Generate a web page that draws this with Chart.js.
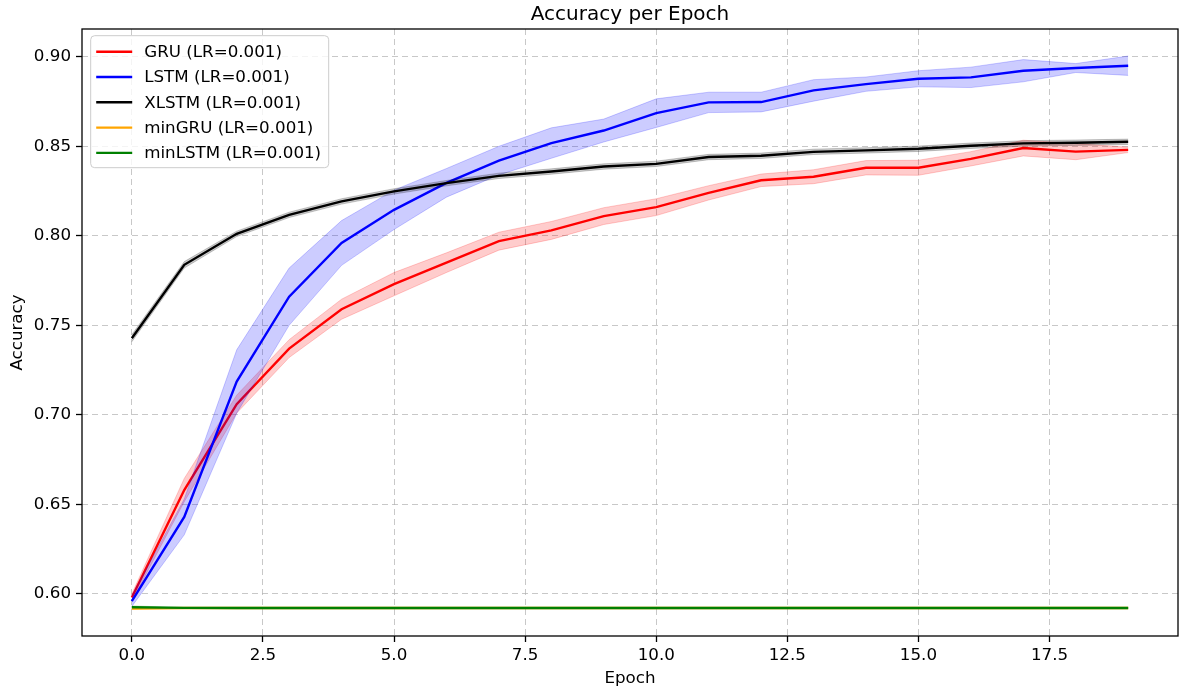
<!DOCTYPE html>
<html><head><meta charset="utf-8">
<script src="https://cdn.jsdelivr.net/npm/chart.js@4.4.1/dist/chart.umd.min.js"></script>
<style>html,body{margin:0;padding:0;background:#fff}#wrap{width:1180px;height:691px}</style>
</head><body><div id="wrap"><canvas id="c" width="1180" height="691"></canvas></div>
<script>
const epochs = [0,1,2,3,4,5,6,7,8,9,10,11,12,13,14,15,16,17,18,19];
const xTicks = [0,2.5,5,7.5,10,12.5,15,17.5];
const yTicks = [0.60,0.65,0.70,0.75,0.80,0.85,0.90];

const gruMean = [0.598,0.658,0.706,0.737,0.759,0.773,0.785,0.797,0.803,0.811,0.816,0.824,0.831,0.833,0.838,0.838,0.843,0.849,0.847,0.848];
const gruStd  = [0.002,0.0065,0.005,0.005,0.0056,0.0065,0.0055,0.005,0.005,0.0047,0.0047,0.004,0.0035,0.0039,0.004,0.0042,0.004,0.0044,0.0045,0.0015];

const lstmMean = [0.596,0.643,0.7186,0.766,0.796,0.8145,0.8296,0.842,0.8518,0.8588,0.8685,0.8745,0.8747,0.8812,0.8847,0.8877,0.8885,0.8922,0.8937,0.895];
const lstmStd  = [0.003,0.01,0.0177,0.016,0.0125,0.011,0.008,0.008,0.0085,0.0064,0.008,0.0057,0.0055,0.006,0.004,0.0045,0.0057,0.0062,0.0025,0.0054];

const xlstmMean = [0.7428,0.7838,0.8011,0.8117,0.8192,0.8248,0.8294,0.8335,0.8359,0.8387,0.8402,0.8440,0.8447,0.8469,0.8477,0.8486,0.8503,0.8516,0.8520,0.8525];
const xlstmStd  = [0.002,0.0018,0.0015,0.0015,0.0015,0.0015,0.0015,0.0015,0.0015,0.0015,0.0015,0.0015,0.0015,0.0015,0.0015,0.0015,0.0015,0.0015,0.0015,0.0015];

const minGruMean = [0.5918,0.5921,0.5921,0.5921,0.5921,0.5921,0.5921,0.5921,0.5921,0.5921,0.5921,0.5921,0.5921,0.5921,0.5921,0.5921,0.5921,0.5921,0.5921,0.5921];
const minGruStd  = [0.0004,0.0001,0.0001,0.0001,0.0001,0.0001,0.0001,0.0001,0.0001,0.0001,0.0001,0.0001,0.0001,0.0001,0.0001,0.0001,0.0001,0.0001,0.0001,0.0001];

const minLstmMean = [0.5926,0.5922,0.5921,0.5921,0.5921,0.5921,0.5921,0.5921,0.5921,0.5921,0.5921,0.5921,0.5921,0.5921,0.5921,0.5921,0.5921,0.5921,0.5921,0.5921];
const minLstmStd  = [0.0007,0.0002,0.0001,0.0001,0.0001,0.0001,0.0001,0.0001,0.0001,0.0001,0.0001,0.0001,0.0001,0.0001,0.0001,0.0001,0.0001,0.0001,0.0001,0.0001];

const seriesLabels = ['GRU (LR=0.001)','LSTM (LR=0.001)','XLSTM (LR=0.001)','minGRU (LR=0.001)','minLSTM (LR=0.001)'];
const seriesColors = ['255,0,0','0,0,255','0,0,0','255,165,0','0,128,0'];
const seriesMeans = [gruMean,lstmMean,xlstmMean,minGruMean,minLstmMean];
const seriesStds = [gruStd,lstmStd,xlstmStd,minGruStd,minLstmStd];

const FONT = 'DejaVu Sans';
const FS = 16.7;
const datasets = [];
const total = seriesLabels.length * 3;
let drawIdx = 0;
seriesLabels.forEach((label, k) => {
  const c = seriesColors[k], m = seriesMeans[k], sd = seriesStds[k];
  datasets.push({label, isMain:true, data: epochs.map((e,i)=>({x:e,y:m[i]})),
    borderColor:`rgb(${c})`, borderWidth:2.4, pointRadius:0, fill:false, tension:0,
    order: total - (drawIdx++)});
  datasets.push({label:'_upper', data: epochs.map((e,i)=>({x:e,y:m[i]+sd[i]})),
    borderColor:`rgba(${c},0.2)`, borderWidth:1, pointRadius:0, fill:false, tension:0,
    order: total - (drawIdx++)});
  datasets.push({label:'_lower', data: epochs.map((e,i)=>({x:e,y:m[i]-sd[i]})),
    borderColor:`rgba(${c},0.2)`, backgroundColor:`rgba(${c},0.2)`, borderWidth:1, pointRadius:0, fill:'-1', tension:0,
    order: total - (drawIdx++)});
});

const mplDecor = {
  id:'mplDecor',
  afterDraw(chart){
    const ctx = chart.ctx, ca = chart.chartArea;
    ctx.save();
    ctx.setLineDash([]);
    ctx.strokeStyle = '#000'; ctx.lineWidth = 1.3;
    ctx.strokeRect(ca.left, ca.top, ca.right - ca.left, ca.bottom - ca.top);
    const items = chart.data.datasets.filter(d => d.isMain);
    const bx = ca.left + 8.7, by = ca.top + 6.7, rowH = 25.3;
    const bw = 238, bh = 132;
    const r = 4;
    ctx.beginPath();
    ctx.moveTo(bx + r, by);
    ctx.lineTo(bx + bw - r, by); ctx.quadraticCurveTo(bx + bw, by, bx + bw, by + r);
    ctx.lineTo(bx + bw, by + bh - r); ctx.quadraticCurveTo(bx + bw, by + bh, bx + bw - r, by + bh);
    ctx.lineTo(bx + r, by + bh); ctx.quadraticCurveTo(bx, by + bh, bx, by + bh - r);
    ctx.lineTo(bx, by + r); ctx.quadraticCurveTo(bx, by, bx + r, by);
    ctx.closePath();
    ctx.fillStyle = 'rgba(255,255,255,0.8)'; ctx.fill();
    ctx.strokeStyle = '#cccccc'; ctx.lineWidth = 1; ctx.stroke();
    ctx.font = `${FS}px "${FONT}"`;
    ctx.textBaseline = 'middle';
    ctx.fillStyle = '#000';
    items.forEach((d, i) => {
      const cy = by + 16 + i * rowH;
      ctx.strokeStyle = d.borderColor; ctx.lineWidth = 2.4;
      ctx.beginPath(); ctx.moveTo(bx + 5.5, cy); ctx.lineTo(bx + 41.5, cy); ctx.stroke();
      ctx.fillText(d.label, bx + 53.5, cy + 1);
    });
    ctx.restore();
  }
};

const gridCommon = {color:'rgba(176,176,176,0.7)', lineWidth:1, drawTicks:true, tickLength:6, tickColor:'#000', tickWidth:1.3, tickBorderDash:[]};

new Chart(document.getElementById('c'), {
  type:'line',
  data:{datasets},
  options:{
    responsive:false, animation:false, devicePixelRatio:1,
    layout:{padding:{left:0,right:2,top:0,bottom:0}},
    plugins:{
      legend:{display:false}, tooltip:{enabled:false},
      title:{display:true, text:'Accuracy per Epoch', color:'#000', fullSize:false,
        font:{family:FONT, size:20, weight:'normal'}, padding:{top:3,bottom:2}}
    },
    scales:{
      x:{type:'linear', min:-0.95, max:19.95,
        afterBuildTicks:s=>{ s.ticks = xTicks.map(v=>({value:v})); },
        afterFit:s=>{ s.height = 55; },
        ticks:{callback:v=>Number(v).toFixed(1), color:'#000', font:{family:FONT,size:FS}, padding:4, maxRotation:0, autoSkip:false},
        grid:gridCommon, border:{display:false, dash:[6,4]},
        title:{display:true, text:'Epoch', color:'#000', font:{family:FONT,size:FS}, padding:{top:0,bottom:2}}
      },
      y:{type:'linear', min:0.5765, max:0.9155,
        afterBuildTicks:s=>{ s.ticks = yTicks.map(v=>({value:v})); },
        afterFit:s=>{ s.width = 82; },
        ticks:{callback:v=>Number(v).toFixed(2), color:'#000', font:{family:FONT,size:FS}, padding:5, autoSkip:false},
        grid:gridCommon, border:{display:false, dash:[6,4]},
        title:{display:true, text:'Accuracy', color:'#000', font:{family:FONT,size:FS}, padding:{top:8,bottom:0}}
      }
    }
  },
  plugins:[mplDecor]
});
</script>
</body></html>
